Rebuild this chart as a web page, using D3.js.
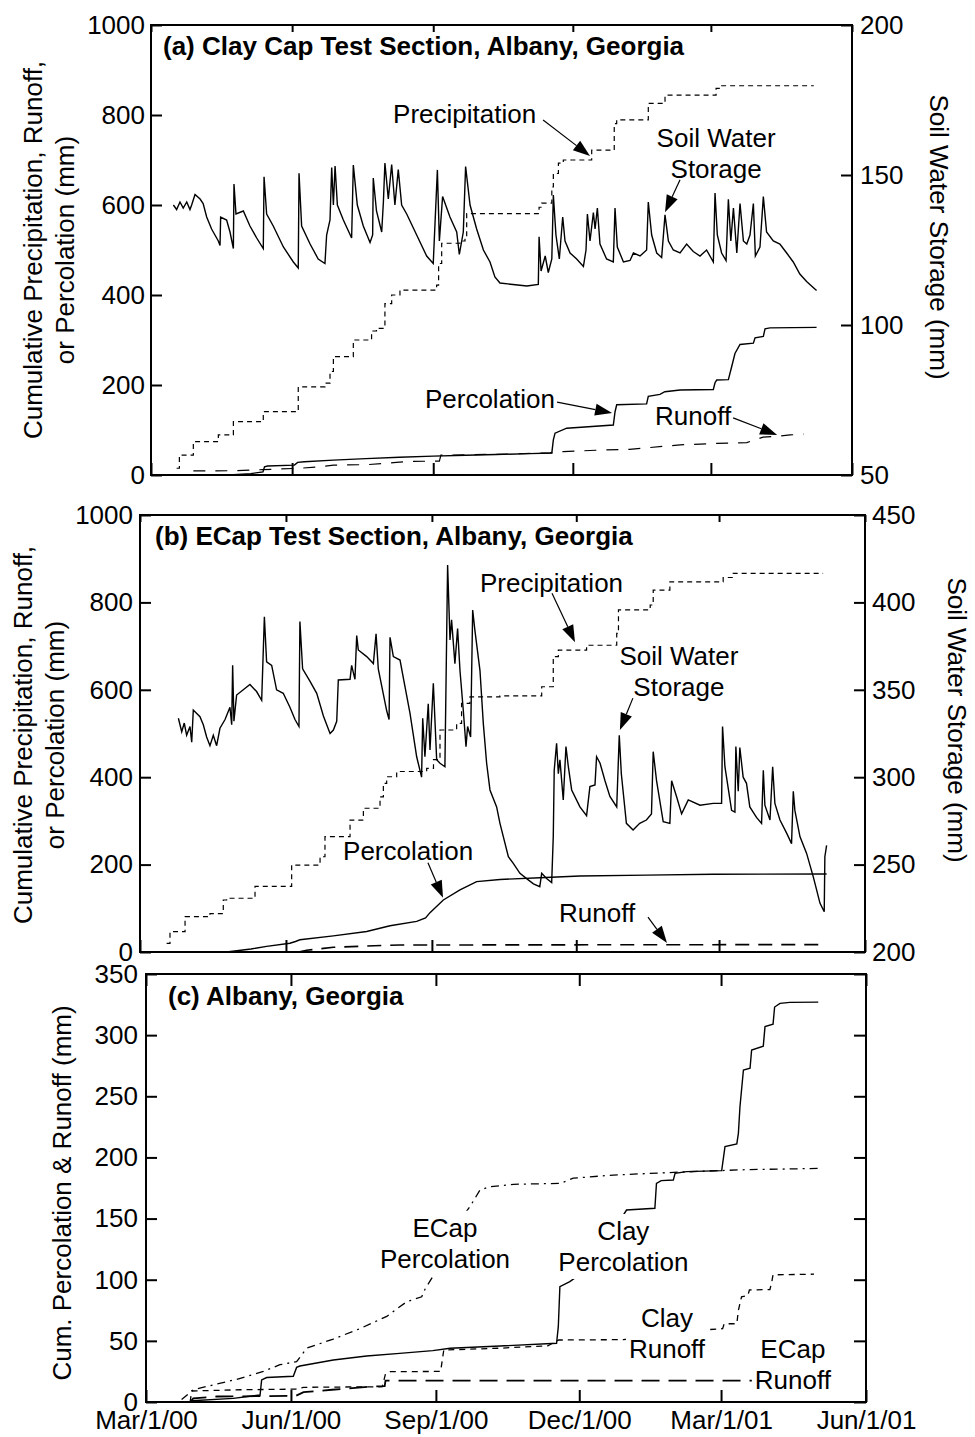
<!DOCTYPE html>
<html><head><meta charset="utf-8">
<script src="https://cdn.jsdelivr.net/npm/d3@7"></script>
<style>
body{margin:0;background:#fff;}
svg{display:block;font-family:"Liberation Sans",Arial,Helvetica,sans-serif;}
</style></head><body>
<svg id="chart" width="975" height="1437"></svg>
<script>
// ---------- DATA (day = days after Mar 1, 2000; values in mm) ----------
const xTickLabels = ["Mar/1/00","Jun/1/00","Sep/1/00","Dec/1/00","Mar/1/01","Jun/1/01"];
const cumTicks = [0,200,400,600,800,1000];
const swsTicksA = [50,100,150,200];
const swsTicksB = [200,250,300,350,400,450];
const cumTicksC = [0,50,100,150,200,250,300,350];

// Panel (a) Clay cap
const swsA = [[14.6,140],[16.7,138.5],[18.9,141],[21,139],[23.3,141],[25.4,138.5],[26.5,140],[28.7,143.5],[32,142],[34,140.5],[36.3,136],[39.5,132],[41.7,130],[43.9,128],[45,126.5],[45.4,136],[49.3,135],[51.5,131],[53.7,125.5],[54.1,147],[55.4,137],[60.2,138],[64.5,133],[68.9,129],[73.2,125.5],[73.7,149.4],[75.4,137],[79.7,133],[86.3,126],[92.8,121],[96,119],[96.5,150.6],[98.2,133],[103.7,127],[109,122],[113.4,120.5],[114.5,130],[116.7,135],[117.8,152.5],[118.9,140],[120,153],[121.5,140],[125.4,135],[130.8,129],[131.9,153.3],[134.5,140],[138.4,133],[142.8,127.5],[144.5,130],[144.9,149],[147,138],[150.4,131],[151.5,141],[152.5,154],[154.7,142],[156.9,153.5],[159,140],[161.2,151.8],[163.4,140],[166.7,137],[173.2,130],[179.7,123],[184,120.5],[186.7,151.7],[188,128],[190.1,142.8],[194.9,136],[199.3,131],[201,123.5],[203.6,131],[205.1,152.8],[208,140],[212.3,132],[216.7,125],[221,121],[224.2,116],[227.5,114],[236,113.5],[245,113],[252.5,113.5],[253,129.4],[254.3,118],[257,123],[259,117.5],[261.3,122],[262.3,143.3],[264,130],[266.2,122],[268.4,136],[269.9,128],[273.2,124],[277.5,122],[281.9,119.5],[283.6,125],[284.5,137],[286.2,128],[288.4,137.5],[289.5,132],[291,139],[292.7,127],[297,122],[301.4,121],[302.5,139],[304,126],[308,121],[312.3,121.5],[314.5,124],[318.8,123],[323.1,125],[324.2,141],[326.4,130],[329.7,124],[332.9,122.5],[335.1,136.7],[337.3,128],[340.5,125],[344.9,124],[349.2,127],[353.5,124.5],[357.9,123],[362.2,125],[366.6,121],[367.7,144],[369.2,130],[372,124],[374.9,121.5],[376.4,141.9],[378,128],[379.7,139],[381.9,124],[384,140.5],[386.2,128],[388.4,127],[390.5,130],[392.7,140.5],[394,123],[397,126],[399.2,142.8],[401.3,131],[405.7,128],[410,127],[414.4,124],[418.7,121],[423,117],[427.4,114.5],[431.7,112.5],[433.9,111.5]];
const precipA = [[16.7,15],[18.5,44],[27.6,74],[43.9,89],[53.7,118.5],[73.2,141],[96,196],[113.4,204],[116.7,230],[118.9,263],[131.9,300],[143.8,320],[147,326],[152.5,381],[156.9,400],[162.3,411],[186.2,422],[187.5,470],[189.5,515],[201.4,520],[204.7,530],[205.8,581],[253,595],[254.7,604],[261.3,640],[262.3,670],[265.6,693],[268.8,700],[287.3,722],[302,781],[303.6,789],[324.2,826],[335.1,844],[368.4,859],[371,865],[431.7,866]];
const percA = [[53.7,0.5],[65,3],[73,7],[74,18],[76,20],[93.5,22],[95.6,28],[100,29.5],[118.9,33],[140,36.5],[162,39.5],[184,42],[205,44],[225,45.5],[247,47.5],[261.3,49],[262.3,78],[263.4,93],[271,104],[301.4,111],[302.5,140],[303.6,156],[323.1,158],[324.2,175],[331.8,179],[335,185],[344.9,189],[366.6,190],[367.7,205],[368.8,211],[376.4,212],[378.5,240],[380.7,270],[384,290],[392.7,293],[393.8,305],[399.2,308],[400.3,325],[403.5,327],[433.9,328]];
const runoffA = [[27.6,9],[53.7,9.5],[73,12],[97,15],[110,18],[119,22],[141,23],[160,28],[167,30],[188,31],[189,44],[225,46],[260,49],[268.8,52],[290,55],[312,57],[345,67],[366.6,70],[388.4,72],[399,84],[408,86],[416.7,89],[425.4,91]];

// Panel (b) ECap
const swsB = [[24.2,333.7],[26.3,326],[27.9,331],[29.4,324],[31.5,329],[32.6,320],[33.6,338.4],[37.8,334.6],[39.9,330],[42,323],[44.1,318],[46.2,324],[48.3,318],[50.4,328],[53.6,333],[56.7,340],[57.8,330],[58.4,364],[59.2,332],[60.9,347],[65.1,350],[69.3,353],[73.5,349],[76.7,344],[78.4,391.8],[79.8,366],[83,364],[86.1,350],[90.3,348],[94.5,340],[97.7,333],[100.2,329],[100.8,389],[102.5,362],[107.1,355],[111.4,348],[115.6,335],[119.8,325],[121.9,327],[124,332],[125,355.6],[132.4,356],[133.4,364],[135.5,356],[136.6,381],[137.6,372.8],[142.9,369],[147.1,365],[148.8,382],[150.2,362],[155.5,338],[157,333],[157.6,380],[159.7,369],[163.9,367],[167,352],[170.2,336.5],[174.4,311.7],[177.5,300],[178.2,333.7],[179.6,311.7],[181.7,342],[182.8,315.6],[184.9,353.7],[187,310],[189.1,308],[192.2,306],[193.9,421.4],[195.4,378.5],[196.4,390],[198.5,365],[200.2,385],[201.7,361],[203.8,338],[205.5,317.5],[206.5,329],[208.4,323],[209.7,395.6],[211.1,384],[214.3,361],[216.4,330.8],[218.5,308],[220.6,292.7],[224.8,283],[226.9,273.6],[232.2,254.5],[235.3,250.7],[239.5,245],[243.7,242],[248,239],[252,237.4],[253.2,245],[256.3,242],[259.5,239.7],[260.5,266],[261.1,304],[262.6,319.4],[263.7,302],[264.7,310],[266.8,287],[268.5,317.5],[270,306],[272.1,292.7],[277.3,283],[281.5,278],[283.6,294.6],[286.8,295.6],[287.8,311.7],[290,308],[293.1,298],[296.2,289],[300.5,283],[302.1,324],[303.4,302],[306.6,273.6],[310.8,269.8],[315,273.6],[319.2,275.5],[322.4,279],[323.5,314.6],[325.6,298],[329.8,274.6],[334,273.6],[335.1,298],[338.2,289],[341.4,279],[345.6,287],[353,284],[361.3,285],[366.6,285],[367.2,329],[368.7,306],[372.9,281],[375,280],[375.6,317.5],[377.1,292],[378.1,317],[380.2,300],[382.3,296.5],[384.4,283],[388.6,277],[391.8,273.6],[392.9,304],[393.9,284],[397.1,275.5],[398.8,306],[400.2,285],[403.4,275.5],[407.6,268],[410.7,262],[411.8,292],[412.8,281],[416,266],[420.2,256.4],[424.4,243],[426.5,235.5],[428.6,228],[431.3,223],[431.7,254.5],[432.8,261]];
const precipB = [[16.8,19.8],[18.9,46.5],[28.4,80.9],[44.1,88],[52.5,119],[54.6,123],[72.5,150],[95.6,199],[113.5,218],[116.6,264],[132.4,302],[140.8,329],[151.3,355],[153.4,386],[155.5,401],[161.8,413],[180.7,420],[185,440],[189.1,508],[199.6,523],[202.7,569],[208,584],[226.9,586],[253.2,607],[260.5,676],[263.7,691],[281.5,702],[300.5,729],[301.6,783],[321.6,794],[323.5,828],[334,847],[367.6,857],[373.9,866.5],[430.6,866.5]];
const percB = [[54.6,0],[70,7],[79.8,13],[94.5,20],[98,24],[100.8,28],[121.9,37],[142.9,47],[157.6,60],[174.4,70],[180,78],[182.8,90],[191.2,119],[201.7,142],[212.2,161],[226.9,166],[252,170],[277.3,174],[319.2,176],[361.3,178],[432.8,178.5]];
const runoffB = [[100,0],[105,4],[121.9,10.7],[142.9,13.7],[163.9,16],[432.8,17]];

// Panel (c) comparison
const clayPercC = [[29,1],[55.4,3],[72.4,5.7],[73.4,18],[76.6,20],[93.5,21],[95.6,28.3],[97.7,29.4],[118.9,34.3],[140,37.6],[161,39.8],[182,42],[193,43.9],[224.7,45.8],[260.6,48],[261.7,61.6],[262.7,94.3],[269,98.4],[275,104],[302,111],[303,152.9],[305,157],[323,158.4],[324,178.8],[327,181],[334.7,181.5],[335.8,187],[343,188.4],[365.4,189.2],[367.5,208.8],[375,211],[376,219.7],[377,241.5],[379.2,271.5],[383.4,272.9],[384.4,287.8],[391.8,291],[392.9,307],[398,309],[399,323],[402.4,326],[408.7,326.8],[426.7,327]];
const ecapPercC = [[22.6,2],[30,10],[42.7,14],[57.5,18.5],[74.5,25],[85,30.5],[95.6,33],[102,44],[118.9,51.5],[135.8,60],[152.8,70],[159,76],[165.5,82],[175,86],[177,92],[182,102.5],[190,130],[200,150],[205.6,159.7],[212,173.4],[218.3,176],[233.3,178],[263,178.8],[271.2,183],[296.6,185.6],[338.9,188],[381,190],[426.7,191]];
const clayRunoffC = [[28,0],[29,9],[60,10],[95,10.5],[100,12],[150,12.5],[152,23],[155,24.8],[187,25],[189,42.5],[224.7,44],[255,46],[262,50.7],[303,51],[355,59],[366,60],[367,64],[375,64],[376,75],[378,86],[382,87],[383,91.6],[396,92],[397,97],[398,104],[424,104.5]];
const ecapRunoffC = [[28,0],[30,3],[45,4.5],[95,5],[100,8],[118,10],[145,12.8],[151.5,13],[152,17.5],[427,17.5]];

// ---------- RENDERING ----------
const START = Date.UTC(2000, 2, 1), END = Date.UTC(2001, 5, 1);
const dt = d => new Date(START + d * 864e5);
const svg = d3.select("#chart");
const FS = 26;
const tickDates = d3.utcMonth.range(new Date(START), new Date(END + 1), 3);

function styleAxis(g) {
  g.select(".domain").remove();
  g.attr("font-size", FS).attr("font-family", null);
  g.selectAll("line").attr("stroke", "#000").attr("stroke-width", 2);
  g.selectAll("text").attr("fill", "#000");
}

function arrow(g, x1, y1, x2, y2) {
  const L = 17, W = 6;
  const a = Math.atan2(y2 - y1, x2 - x1);
  const bx = x2 - L * Math.cos(a), by = y2 - L * Math.sin(a);
  g.append("line").attr("x1", x1).attr("y1", y1).attr("x2", bx).attr("y2", by)
    .attr("stroke", "#000").attr("stroke-width", 1.2);
  const px = -Math.sin(a) * W, py = Math.cos(a) * W;
  g.append("path").attr("d", `M${x2},${y2}L${bx + px},${by + py}L${bx - px},${by - py}Z`).attr("fill", "#000");
}

function panel(cfg) {
  const g = svg.append("g");
  const x = d3.scaleUtc().domain([new Date(START), new Date(END)]).range([cfg.x0, cfg.x1]);
  const yL = d3.scaleLinear().domain(cfg.left.domain).range([cfg.y1, cfg.y0]);
  const yR = cfg.right ? d3.scaleLinear().domain(cfg.right.domain).range([cfg.y1, cfg.y0]) : null;

  cfg.series.forEach(s => {
    const y = s.axis === "right" ? yR : yL;
    const line = d3.line().x(d => x(dt(d[0]))).y(d => y(d[1]))
      .curve(s.step ? d3.curveStepAfter : d3.curveLinear);
    g.append("path").attr("d", line(s.data)).attr("fill", "none")
      .attr("stroke", "#000").attr("stroke-width", s.width)
      .attr("stroke-dasharray", s.dash || null);
  });

  cfg.notes.forEach(n => {
    const ng = g.append("g");
    const tx = x(dt(n.day)), ty = yL(n.v);
    const t = ng.append("text").attr("font-size", FS).attr("text-anchor", n.anchor).attr("fill", "#000");
    n.lines.forEach((ln, i) => t.append("tspan").attr("x", tx).attr("y", ty + i * 31).text(ln));
    if (cfg.mask) {
      const bb = t.node().getBBox();
      ng.insert("rect", "text").attr("x", bb.x - 3).attr("y", bb.y - 2)
        .attr("width", bb.width + 6).attr("height", bb.height + 4).attr("fill", "#fff");
    }
    if (n.arrow) {
      const [d1, v1, d2, v2] = n.arrow;
      arrow(ng, x(dt(d1)), yL(v1), x(dt(d2)), yL(v2));
    }
  });

  g.append("rect").attr("x", cfg.x0).attr("y", cfg.y0)
    .attr("width", cfg.x1 - cfg.x0).attr("height", cfg.y1 - cfg.y0)
    .attr("fill", "none").attr("stroke", "#000").attr("stroke-width", 2);

  g.append("g").attr("transform", `translate(${cfg.x0},0)`)
    .call(d3.axisLeft(yL).tickValues(cfg.left.ticks).tickSize(-11).tickPadding(cfg.left.pad).tickFormat(d3.format("d")))
    .call(styleAxis);
  if (yR) {
    g.append("g").attr("transform", `translate(${cfg.x1},0)`)
      .call(d3.axisRight(yR).tickValues(cfg.right.ticks).tickSize(-11).tickPadding(cfg.right.pad).tickFormat(d3.format("d")))
      .call(styleAxis);
  } else {
    g.append("g").attr("transform", `translate(${cfg.x1},0)`)
      .call(d3.axisRight(yL).tickValues(cfg.left.ticks).tickSize(-12).tickFormat(""))
      .call(styleAxis);
  }
  g.append("g").attr("transform", `translate(0,${cfg.y0})`)
    .call(d3.axisTop(x).tickValues(tickDates).tickSize(-cfg.topTick).tickFormat(""))
    .call(styleAxis);
  g.append("g").attr("transform", `translate(0,${cfg.y1})`)
    .call(d3.axisBottom(x).tickValues(tickDates).tickSize(-12).tickPadding(9)
      .tickFormat(cfg.xLabels ? (d, i) => xTickLabels[i] : ""))
    .call(styleAxis);

  g.append("text").attr("x", cfg.x0 + cfg.title.dx).attr("y", cfg.y0 + cfg.title.dy)
    .attr("font-size", FS).attr("font-weight", "bold").attr("fill", "#000").text(cfg.title.text);

  cfg.yTitles.forEach(tt => {
    const t = svg.append("text").attr("font-size", FS).attr("text-anchor", "middle").attr("fill", "#000")
      .attr("transform", `translate(${tt.x},${tt.y}) rotate(${tt.rot})`);
    tt.lines.forEach((ln, i) => t.append("tspan").attr("x", 0).attr("y", i * 32).text(ln));
  });
}

panel({
  x0: 151, x1: 852, y0: 25, y1: 475, topTick: 7, xLabels: false,
  left: { domain: [0, 1000], ticks: cumTicks, pad: 6 },
  right: { domain: [50, 200], ticks: swsTicksA, pad: 8 },
  title: { text: "(a) Clay Cap Test Section, Albany, Georgia", dx: 12, dy: 30 },
  series: [
    { data: precipA, step: true, width: 1.2, dash: "5,4" },
    { data: runoffA, width: 1.2, dash: "12,10" },
    { data: percA, width: 1.4 },
    { data: swsA, axis: "right", width: 1.4 }
  ],
  notes: [
    { lines: ["Precipitation"], anchor: "start", day: 157.8, v: 782, arrow: [255.6, 789, 286.2, 709] },
    { lines: ["Soil Water", "Storage"], anchor: "middle", day: 368.4, v: 729, arrow: [344.9, 656, 335.1, 584] },
    { lines: ["Percolation"], anchor: "start", day: 178.6, v: 149, arrow: [264.7, 162, 300.6, 138] },
    { lines: ["Runoff"], anchor: "start", day: 328.6, v: 111, arrow: [379.5, 127, 408.2, 89] }
  ],
  yTitles: [
    { lines: ["Cumulative Precipitation, Runoff,", "or Percolation (mm)"], x: 42, y: 250, rot: -90 },
    { lines: ["Soil Water Storage (mm)"], x: 930, y: 237, rot: 90 }
  ]
});

panel({
  x0: 140, x1: 865, y0: 515, y1: 952, topTick: 7, xLabels: false,
  left: { domain: [0, 1000], ticks: cumTicks, pad: 7 },
  right: { domain: [200, 450], ticks: swsTicksB, pad: 7 },
  title: { text: "(b) ECap Test Section, Albany, Georgia", dx: 15, dy: 30 },
  series: [
    { data: precipB, step: true, width: 1.2, dash: "5,4" },
    { data: runoffB, width: 1.6, dash: "14,9" },
    { data: percB, width: 1.4 },
    { data: swsB, axis: "right", width: 1.4 }
  ],
  notes: [
    { lines: ["Precipitation"], anchor: "start", day: 214.3, v: 823.7, arrow: [259.7, 821, 274.2, 709] },
    { lines: ["Soil Water", "Storage"], anchor: "middle", day: 339.7, v: 656.7, arrow: [310.7, 581, 302.5, 508] },
    { lines: ["Percolation"], anchor: "start", day: 128, v: 210.5, arrow: [181.5, 204, 191, 124] },
    { lines: ["Runoff"], anchor: "start", day: 264.1, v: 68.6, arrow: [320.2, 80, 332.2, 20.6] }
  ],
  yTitles: [
    { lines: ["Cumulative Precipitation, Runoff,", "or Percolation (mm)"], x: 32, y: 735, rot: -90 },
    { lines: ["Soil Water Storage (mm)"], x: 948, y: 720, rot: 90 }
  ]
});

panel({
  x0: 146, x1: 866, y0: 974, y1: 1402, topTick: 12, xLabels: true, mask: true,
  left: { domain: [0, 350], ticks: cumTicksC, pad: 8 },
  right: null,
  title: { text: "(c) Albany, Georgia", dx: 22, dy: 31 },
  series: [
    { data: ecapRunoffC, width: 1.8, dash: "18,9" },
    { data: clayRunoffC, width: 1.3, dash: "6,5" },
    { data: ecapPercC, width: 1.3, dash: "8,5,2,5" },
    { data: clayPercC, width: 1.4 }
  ],
  notes: [
    { lines: ["ECap", "Percolation"], anchor: "middle", day: 189.8, v: 135.2 },
    { lines: ["Clay", "Percolation"], anchor: "middle", day: 303, v: 132.5 },
    { lines: ["Clay", "Runoff"], anchor: "middle", day: 330.7, v: 61.6 },
    { lines: ["ECap", "Runoff"], anchor: "middle", day: 410.6, v: 36 }
  ],
  yTitles: [
    { lines: ["Cum. Percolation & Runoff (mm)"], x: 71, y: 1193, rot: -90 }
  ]
});
</script>
</body></html>
